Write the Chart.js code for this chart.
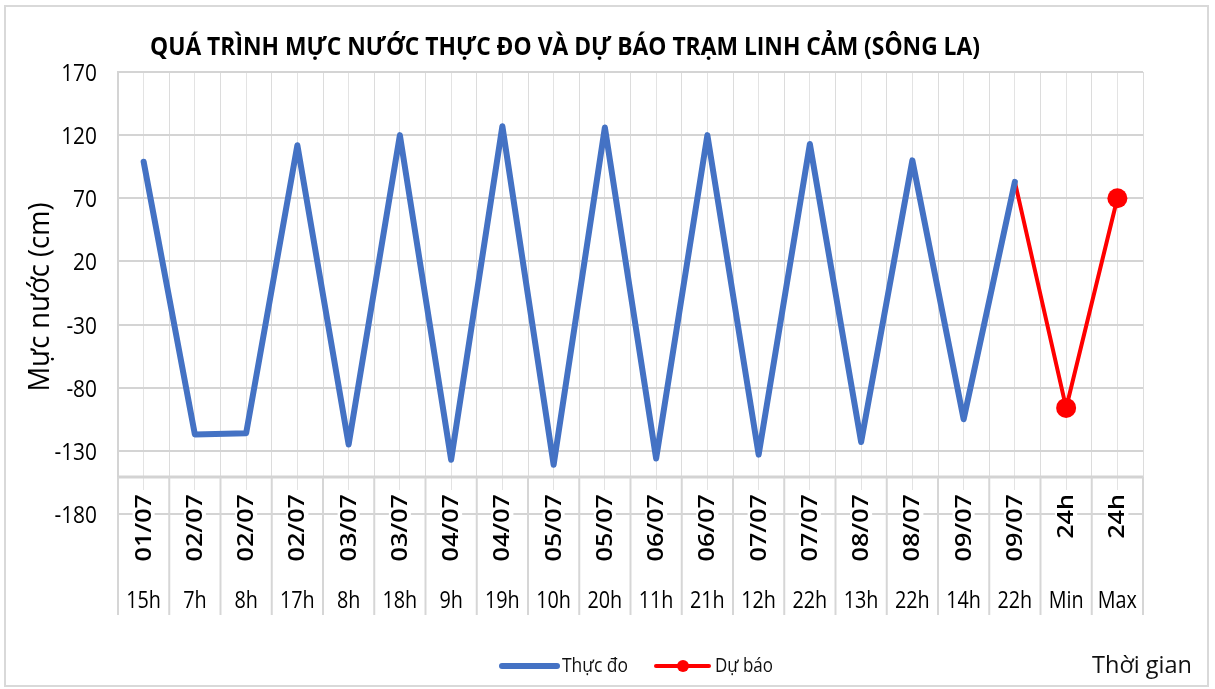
<!DOCTYPE html>
<html>
<head>
<meta charset="utf-8">
<script src="https://cdn.jsdelivr.net/npm/chart.js"></script>
<style>
html, body { margin: 0; padding: 0; background: #fff; }
canvas { display: block; }
</style>
</head>
<body>
<canvas id="line-chart" width="1215" height="689"></canvas>
<script>
// category labels (two levels: date / hour)
var ngay = ['01/07', '02/07', '02/07', '02/07', '03/07', '03/07', '04/07', '04/07', '05/07', '05/07',
            '06/07', '06/07', '07/07', '07/07', '08/07', '08/07', '09/07', '09/07', '24h', '24h'];
var gio = ['15h', '7h', '8h', '17h', '8h', '18h', '9h', '19h', '10h', '20h',
           '11h', '21h', '12h', '22h', '13h', '22h', '14h', '22h', 'Min', 'Max'];

// water level (cm)
var thucDo = [99, -117, -116, 112, -125, 120, -137, 127, -141, 126,
              -136, 120, -133, 113, -123, 100, -105, 83, null, null];
var duBao = [null, null, null, null, null, null, null, null, null, null,
             null, null, null, null, null, null, null, 83, -96, 70];

// y axis range
var yMin = -180;
var yMax = 170;
var yStep = 50;

var FONT = "'Open Sans', 'Noto Sans', sans-serif";

// draws text, stretched along its direction by "squash" or fitted to "width"
function drawText(c, txt, x, y, size, weight, opt) {
    c.save();
    c.font = weight + ' ' + size + 'px ' + FONT;
    c.translate(x, y);
    if (opt.rotate) c.rotate(-Math.PI / 2);
    var w = c.measureText(txt).width;
    var sx = opt.width ? opt.width / w : (opt.squash || 1);
    c.scale(sx, 1);
    c.textAlign = opt.align || 'center';
    c.textBaseline = 'alphabetic';
    c.fillStyle = opt.color || '#000';
    c.fillText(txt, 0, 0);
    c.restore();
    return w * sx;
}

function line(c, x1, y1, x2, y2, color, width, cap) {
    c.save();
    c.beginPath();
    c.moveTo(x1, y1);
    c.lineTo(x2, y2);
    c.strokeStyle = color;
    c.lineWidth = width;
    c.lineCap = cap || 'butt';
    c.stroke();
    c.restore();
}

// excel-like texts: title, axis labels, category box, legend
var excelLook = {
    id: 'excelLook',
    afterDraw: function(chart) {
        var c = chart.ctx;
        var a = chart.chartArea;
        var x = chart.scales.x;
        var y = chart.scales.y;

        // y tick labels
        y.ticks.forEach(function(t) {
            drawText(c, String(t.value), a.left - 21, y.getPixelForValue(t.value) + 9, 24, 'normal',
                     {align: 'right', squash: 0.87, color: '#000'});
        });

        // category label box
        var half = (x.getPixelForValue(1) - x.getPixelForValue(0)) / 2;
        var boxTop = a.bottom - 37;
        line(c, a.left, boxTop, a.right, boxTop, '#d3d3d3', 3);
        for (var i = 0; i < ngay.length; i++) {
            var cx = x.getPixelForValue(i);
            line(c, cx - half, boxTop, cx - half, boxTop + 138, '#d6d6d6', 2);
            if (i == ngay.length - 1) line(c, cx + half, boxTop, cx + half, boxTop + 138, '#d6d6d6', 2);

            c.save();
            c.font = '600 21px ' + FONT;
            var len = c.measureText(ngay[i]).width * 1.2;
            c.fillStyle = '#fff';
            c.fillRect(cx - 11, boxTop + 13, 22, len + 6);
            c.restore();
            drawText(c, ngay[i], cx + 7, boxTop + 17, 21, '600', {rotate: true, align: 'right', squash: 1.2, color: '#000'});

            drawText(c, gio[i], cx, boxTop + 131, 23, 'normal', {squash: 0.86, color: '#000'});
        }

        // title
        drawText(c, 'QUÁ TRÌNH MỰC NƯỚC THỰC ĐO VÀ DỰ BÁO TRẠM LINH CẢM (SÔNG LA)', 150, 55, 25, 'bold',
                 {align: 'left', width: 830, color: '#000'});

        // y axis title
        drawText(c, 'Mực nước (cm)', 49, 297, 29, 'normal', {rotate: true, width: 189, color: '#000'});

        // legend
        var ds = chart.data.datasets;
        line(c, 502, 666, 557, 666, ds[0].borderColor, 6, 'round');
        drawText(c, ds[0].label, 562, 672, 20, 'normal', {align: 'left', width: 66, color: '#111'});
        line(c, 656, 666, 709, 666, ds[1].borderColor, 4, 'round');
        c.beginPath();
        c.arc(683, 666, 6, 0, Math.PI * 2);
        c.fillStyle = ds[1].borderColor;
        c.fill();
        drawText(c, ds[1].label, 715, 672, 20, 'normal', {align: 'left', width: 58, color: '#111'});

        // x axis title
        drawText(c, 'Thời gian', 1092, 673, 23, 'normal', {align: 'left', width: 100, color: '#111'});

        // chart frame
        c.save();
        c.strokeStyle = '#d9d9d9';
        c.lineWidth = 2;
        c.strokeRect(5, 6, 1203, 680);
        c.restore();
    }
};

var ctx = document.getElementById('line-chart').getContext('2d');

var myChart = new Chart(ctx, {
    type: 'line',
    data: {
        labels: ngay.map(function(d, i) { return d + ' ' + gio[i]; }),
        datasets: [{
            label: 'Thực đo',
            data: thucDo,
            borderColor: '#4472C4',
            backgroundColor: '#4472C4',
            borderWidth: 6,
            borderJoinStyle: 'round',
            borderCapStyle: 'round',
            pointRadius: 0,
            fill: false,
            tension: 0
        }, {
            label: 'Dự báo',
            data: duBao,
            borderColor: '#FF0000',
            backgroundColor: '#FF0000',
            borderWidth: 4,
            borderJoinStyle: 'round',
            borderCapStyle: 'round',
            pointRadius: duBao.map(function(v, i) { return i >= 18 ? 10 : 0; }),
            pointBorderWidth: 0,
            pointBackgroundColor: '#FF0000',
            fill: false,
            tension: 0
        }]
    },
    options: {
        responsive: false,
        animation: false,
        layout: { padding: { top: 72, right: 72, bottom: 175, left: 0 } },
        plugins: {
            legend: { display: false },
            title: { display: false },
            tooltip: { enabled: false }
        },
        scales: {
            x: {
                offset: true,
                grid: { offset: true, color: '#dcdcdc', lineWidth: 1, drawTicks: false },
                ticks: { display: false },
                border: { display: false },
                afterFit: function(s) { s.height = 0; }
            },
            x2: {
                type: 'category',
                position: 'bottom',
                offset: true,
                grid: { offset: false, color: '#e3e3e3', lineWidth: 1, drawTicks: false },
                ticks: { display: false },
                border: { display: false },
                afterFit: function(s) { s.height = 0; }
            },
            y: {
                min: yMin,
                max: yMax,
                ticks: { stepSize: yStep, display: false },
                grid: { color: '#d4d4d4', lineWidth: 2, drawTicks: false },
                border: { display: true, color: '#d4d4d4', width: 2 },
                afterFit: function(s) { s.width = 118; }
            }
        }
    },
    plugins: [excelLook]
});
</script>
</body>
</html>
